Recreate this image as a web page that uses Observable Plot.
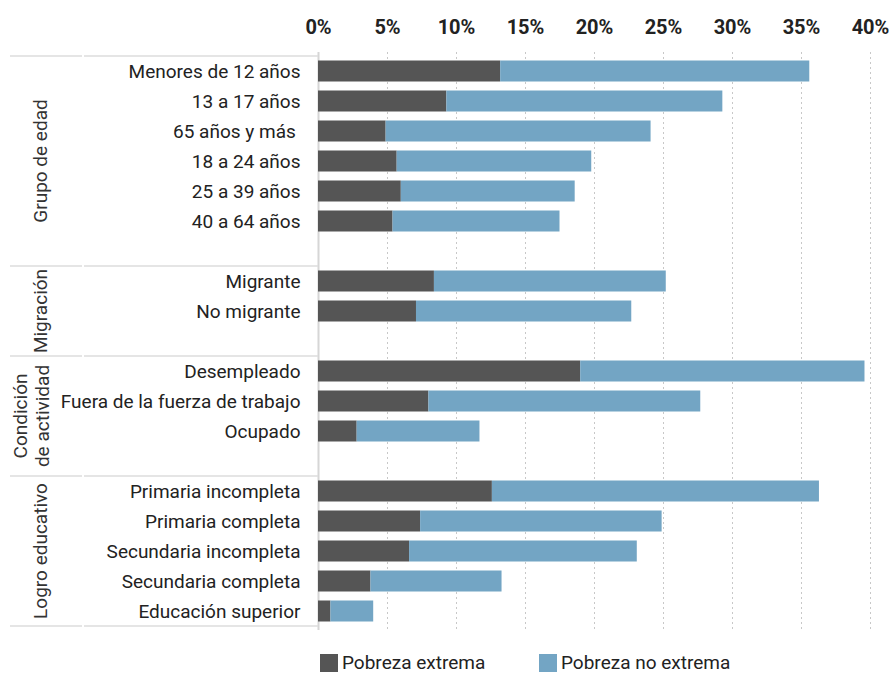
<!DOCTYPE html>
<html><head><meta charset="utf-8">
<script src="https://cdn.jsdelivr.net/npm/d3@7"></script>
<script src="https://cdn.jsdelivr.net/npm/@observablehq/plot@0.6"></script>
<style>
body{margin:0;background:#fff;font-family:Roboto, sans-serif;overflow:hidden;}
#chart svg{display:block;}
#legend{position:relative;height:32px;font-size:19px;color:#222;}
.item{position:absolute;top:13px;display:flex;align-items:center;line-height:19px;height:19px;}
.sw{width:18px;height:18px;margin-right:4px;}
</style></head><body>
<div id="chart"></div>
<div id="legend"></div>
<script>
// ---- data ----
const groups = ["Grupo de edad", "Migración", "Condición de actividad", "Logro educativo"];
const groupLines = [["Grupo de edad"], ["Migración"], ["Condición", "de actividad"], ["Logro educativo"]];
const categories = [
  "Menores de 12 años", "13 a 17 años", "65 años y más\u00a0", "18 a 24 años", "25 a 39 años", "40 a 64 años",
  "Migrante", "No migrante",
  "Desempleado", "Fuera de la fuerza de trabajo", "Ocupado",
  "Primaria incompleta", "Primaria completa", "Secundaria incompleta", "Secundaria completa", "Educación superior"
];
const categoryGroup = [0, 0, 0, 0, 0, 0, 1, 1, 2, 2, 2, 3, 3, 3, 3, 3];
const extreme    = [13.2, 9.3, 4.9, 5.7, 6.0, 5.4, 8.4, 7.1, 19.0, 8.0, 2.8, 12.6, 7.4, 6.6, 3.8, 0.9];
const nonExtreme = [22.4, 20.0, 19.2, 14.1, 12.6, 12.1, 16.8, 15.6, 20.6, 19.7, 8.9, 23.7, 17.5, 16.5, 9.5, 3.1];
const seriesNames = ["Pobreza extrema", "Pobreza no extrema"];
const colors = ["#555555", "#73a5c4"];
const xTicks = [0, 5, 10, 15, 20, 25, 30, 35, 40];

// ---- build ----
const rows = [];
groups.forEach((g, gi) => {
  categories.forEach((c, i) => { if (categoryGroup[i] === gi) rows.push(c); });
  if (gi < groups.length - 1) rows.push(" ".repeat(gi + 1));
});
const data = categories.flatMap((c, i) => [
  {cat: c, serie: seriesNames[0], value: extreme[i]},
  {cat: c, serie: seriesNames[1], value: nonExtreme[i]}
]);

const marginLeft = 318;
const plot = Plot.plot({
  width: 896, height: 640,
  marginTop: 52, marginBottom: 10, marginLeft, marginRight: 26,
  style: {fontFamily: "Roboto, sans-serif", fontSize: "19px", color: "#222", background: "#fff"},
  x: {domain: [0, 40]},
  y: {domain: rows, padding: 0},
  color: {domain: seriesNames, range: colors},
  marks: [
    Plot.gridX(xTicks.slice(1), {stroke: "#c8c8c8", strokeOpacity: 1, strokeDasharray: "2,3"}),
    Plot.ruleX([0], {stroke: "#d6d6d6", strokeWidth: 2}),
    Plot.barX(data, {x: "value", y: "cat", fill: "serie", insetTop: 4.5, insetBottom: 4.5}),
    Plot.axisX(xTicks, {anchor: "top", tickSize: 0, tickPadding: 19, tickFormat: d => d + "%", fontWeight: "bold", fontSize: 20, label: null}),
    Plot.axisY({tickSize: 0, tickPadding: 18, tickFormat: d => d.trim() === "" ? "" : d, label: null, fontSize: 19})
  ]
});
document.getElementById("chart").appendChild(plot);

// group separators and labels, positioned via the plot's y scale
const ys = plot.scale("y");
const svg = d3.select(plot);
const deco = svg.append("g");
groups.forEach((g, gi) => {
  const cats = categories.filter((c, i) => categoryGroup[i] === gi);
  const top = ys.apply(cats[0]);
  const nextFirst = gi < groups.length - 1 ? categories.find((c, i) => categoryGroup[i] === gi + 1) : null;
  const bottom = nextFirst ? ys.apply(nextFirst) : ys.apply(cats[cats.length - 1]) + ys.bandwidth;
  [[10, 82], [84, marginLeft]].forEach(([a, b]) => {
    deco.append("line").attr("x1", a).attr("x2", b).attr("y1", top).attr("y2", top)
      .attr("stroke", "#dcdcdc").attr("stroke-width", 1.5);
    if (gi === groups.length - 1)
      deco.append("line").attr("x1", a).attr("x2", b).attr("y1", bottom).attr("y2", bottom)
        .attr("stroke", "#dcdcdc").attr("stroke-width", 1.5);
  });
  const cy = (top + bottom) / 2;
  const lines = groupLines[gi];
  const t = deco.append("text")
    .attr("transform", `translate(${lines.length > 1 ? 31 : 40},${cy}) rotate(-90)`)
    .attr("text-anchor", "middle").attr("fill", "#333")
    .style("font-family", "Roboto, sans-serif").style("font-size", "19px");
  lines.forEach((l, li) => {
    t.append("tspan").attr("x", 0)
      .attr("dy", li === 0 ? `${(0.35 - (lines.length - 1) * 0.58).toFixed(2)}em` : "1.16em").text(l);
  });
});

// legend
const legend = d3.select("#legend");
const legendLeft = [320, 539];
seriesNames.forEach((s, i) => {
  const it = legend.append("div").attr("class", "item").style("left", legendLeft[i] + "px");
  it.append("div").attr("class", "sw").style("background", colors[i]);
  it.append("span").text(s);
});
</script>
</body></html>
